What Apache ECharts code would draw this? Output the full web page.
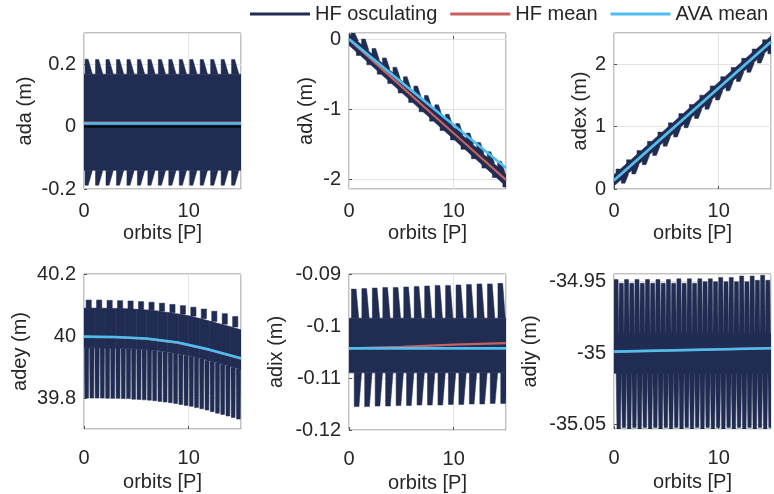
<!DOCTYPE html>
<html><head><meta charset="utf-8">
<script src="https://cdn.jsdelivr.net/npm/echarts@6/dist/echarts.min.js"></script>
<style>html,body{margin:0;padding:0;background:#fff}#c{width:774px;height:494px}</style>
</head><body><div id="c"></div>
<script>
// ---------------- data (orbits [P], metres) ----------------
const seriesNames = ['HF osculating', 'HF mean', 'AVA mean'];
const xTickLabels = [0, 10];
const yNames = ['ada (m)', 'adλ (m)', 'adex (m)', 'adey (m)', 'adix (m)', 'adiy (m)'];

// HF osculating envelope: body rows [t, low, high]; teeth rows [t, base, peak]
const adaBody = [[0, -0.140, 0.168], [15, -0.140, 0.168]];
const adaUp = [[0.1,0.168,0.216],[1.1,0.168,0.215],[2.1,0.168,0.215],[3.1,0.168,0.215],[4.1,0.168,0.215],[5.1,0.168,0.215],[6.1,0.168,0.215],[7.1,0.168,0.215],[8.1,0.168,0.215],[9.1,0.168,0.215],[10.1,0.168,0.215],[11.1,0.168,0.215],[12.1,0.168,0.215],[13.1,0.168,0.215],[14.1,0.168,0.215]];
const adaLow = [[0.1,-0.140,-0.188],[1.1,-0.140,-0.188],[2.1,-0.140,-0.188],[3.1,-0.140,-0.188],[4.1,-0.140,-0.188],[5.1,-0.140,-0.188],[6.1,-0.140,-0.188],[7.1,-0.140,-0.188],[8.1,-0.140,-0.188],[9.1,-0.140,-0.188],[10.1,-0.140,-0.188],[11.1,-0.140,-0.188],[12.1,-0.140,-0.188],[13.1,-0.140,-0.188],[14.1,-0.140,-0.188]];
const adaHFmean = [[0, 0.013], [15, 0.013]];
const adaAVAmean = [[0, 0.010], [15, 0.010]];
const adaZero = [[0, 0], [15, 0]];

const adlBody = [[0, -0.09, 0.08], [15, -2.10, -1.93]];
const adlUp = [[0.2,-0.027,0.086],[1.2,-0.161,-0.001],[2.2,-0.295,-0.135],[3.2,-0.429,-0.269],[4.2,-0.563,-0.403],[5.2,-0.697,-0.537],[6.2,-0.831,-0.671],[7.2,-0.965,-0.805],[8.2,-1.099,-0.939],[9.2,-1.233,-1.073],[10.2,-1.367,-1.207],[11.2,-1.501,-1.341],[12.2,-1.635,-1.475],[13.2,-1.769,-1.609],[14.2,-1.903,-1.743]];
const adlLow = [[0.7,-0.094,-0.234],[1.7,-0.228,-0.368],[2.7,-0.362,-0.502],[3.7,-0.496,-0.636],[4.7,-0.630,-0.770],[5.7,-0.764,-0.904],[6.7,-0.898,-1.038],[7.7,-1.032,-1.172],[8.7,-1.166,-1.306],[9.7,-1.300,-1.440],[10.7,-1.434,-1.574],[11.7,-1.568,-1.708],[12.7,-1.702,-1.842],[13.7,-1.836,-1.976],[14.7,-1.970,-2.110]];
const adlHFmean = [[0, -0.005], [5, -0.675], [10, -1.345], [15, -2.01]];
const adlAVAmean = [[0, 0.0], [5, -0.615], [10, -1.228], [15, -1.84]];

const adexBody = [[0, 0.05, 0.23], [15, 2.27, 2.45]];
const adexUp = [[0.2,0.170,0.320],[1.2,0.318,0.468],[2.2,0.466,0.616],[3.2,0.614,0.764],[4.2,0.762,0.912],[5.2,0.910,1.060],[6.2,1.058,1.208],[7.2,1.206,1.356],[8.2,1.354,1.504],[9.2,1.502,1.652],[10.2,1.650,1.800],[11.2,1.798,1.948],[12.2,1.946,2.096],[13.2,2.094,2.244],[14.2,2.242,2.392]];
const adexLow = [[0.7,0.244,0.094],[1.7,0.392,0.242],[2.7,0.540,0.390],[3.7,0.688,0.538],[4.7,0.836,0.686],[5.7,0.984,0.834],[6.7,1.132,0.982],[7.7,1.280,1.130],[8.7,1.428,1.278],[9.7,1.576,1.426],[10.7,1.724,1.574],[11.7,1.872,1.722],[12.7,2.020,1.870],[13.7,2.168,2.018],[14.7,2.316,2.166]];
const adexHFmean = [[0, 0.135], [15, 2.355]];
const adexAVAmean = [[0, 0.14], [15, 2.36]];

const adeyBody = [[0,39.962,40.090],[1,39.962,40.090],[2,39.9615,40.0895],[3,39.961,40.089],[4,39.960,40.088],[5,39.958,40.086],[6,39.956,40.084],[7,39.953,40.081],[8,39.948,40.076],[9,39.943,40.071],[10,39.937,40.065],[11,39.929,40.057],[12,39.920,40.048],[13,39.911,40.039],[14,39.902,40.030],[15,39.892,40.020]];
const adeyUp = [[0.2,40.09,40.116],[1.2,40.09,40.116],[2.2,40.089,40.115],[3.2,40.088,40.114],[4.2,40.087,40.113],[5.2,40.085,40.111],[6.2,40.083,40.109],[7.2,40.080,40.106],[8.2,40.075,40.102],[9.2,40.070,40.098],[10.2,40.064,40.093],[11.2,40.056,40.087],[12.2,40.047,40.080],[13.2,40.038,40.072],[14.2,40.029,40.063]];
const adeyLow = [[0.25,39.962,39.800],[0.75,39.962,39.800],[1.25,39.962,39.800],[1.75,39.962,39.800],[2.25,39.961,39.7995],[2.75,39.961,39.799],[3.25,39.961,39.799],[3.75,39.960,39.798],[4.25,39.959,39.798],[4.75,39.958,39.796],[5.25,39.957,39.795],[5.75,39.956,39.794],[6.25,39.955,39.793],[6.75,39.953,39.791],[7.25,39.951,39.789],[7.75,39.949,39.787],[8.25,39.946,39.785],[8.75,39.944,39.782],[9.25,39.941,39.779],[9.75,39.938,39.776],[10.25,39.935,39.773],[10.75,39.931,39.769],[11.25,39.927,39.765],[11.75,39.922,39.761],[12.25,39.918,39.756],[12.75,39.913,39.751],[13.25,39.909,39.747],[13.75,39.904,39.742],[14.25,39.899,39.737],[14.75,39.894,39.732]];
const adeyHFmean = [[0,39.997],[3,39.996],[6,39.991],[9,39.978],[12,39.955],[15,39.927]];
const adeyAVAmean = [[0,39.998],[3,39.997],[6,39.992],[9,39.979],[12,39.956],[15,39.928]];

const adixBody = [[0, -0.1090, -0.0985], [15, -0.1090, -0.0985]];
const adixUp = [[0.23,-0.0985,-0.0929],[1.23,-0.0985,-0.0928],[2.23,-0.0985,-0.0927],[3.23,-0.0985,-0.0926],[4.23,-0.0985,-0.0926],[5.23,-0.0985,-0.0925],[6.23,-0.0985,-0.0924],[7.23,-0.0985,-0.0923],[8.23,-0.0985,-0.0922],[9.23,-0.0985,-0.0922],[10.23,-0.0985,-0.0921],[11.23,-0.0985,-0.0920],[12.23,-0.0985,-0.0919],[13.23,-0.0985,-0.0919],[14.23,-0.0985,-0.0918]];
const adixLow = [[0.5,-0.1090,-0.1155],[1.5,-0.1090,-0.1155],[2.5,-0.1090,-0.1154],[3.5,-0.1090,-0.1154],[4.5,-0.1090,-0.1153],[5.5,-0.1090,-0.1153],[6.5,-0.1090,-0.1152],[7.5,-0.1090,-0.1152],[8.5,-0.1090,-0.1152],[9.5,-0.1090,-0.1151],[10.5,-0.1090,-0.1151],[11.5,-0.1090,-0.1150],[12.5,-0.1090,-0.1150],[13.5,-0.1090,-0.1149],[14.5,-0.1090,-0.1149]];
const adixHFmean = [[0, -0.1043], [5, -0.1040], [10, -0.1036], [15, -0.1033]];
const adixAVAmean = [[0, -0.1043], [15, -0.1043]];

const adiyBody = [[0, -35.014, -34.986], [15, -35.014, -34.986]];
const adiyUp = [[0.2,-34.99,-34.9485],[0.7,-34.99,-34.951],[1.2,-34.99,-34.9485],[1.7,-34.99,-34.951],[2.2,-34.99,-34.9485],[2.7,-34.99,-34.951],[3.2,-34.99,-34.9485],[3.7,-34.99,-34.951],[4.2,-34.99,-34.9485],[4.7,-34.99,-34.951],[5.2,-34.99,-34.9485],[5.7,-34.99,-34.951],[6.2,-34.99,-34.948],[6.7,-34.99,-34.951],[7.2,-34.99,-34.948],[7.7,-34.99,-34.951],[8.2,-34.99,-34.948],[8.7,-34.99,-34.950],[9.2,-34.99,-34.948],[9.7,-34.99,-34.950],[10.2,-34.99,-34.947],[10.7,-34.99,-34.950],[11.2,-34.99,-34.947],[11.7,-34.99,-34.950],[12.2,-34.99,-34.946],[12.7,-34.99,-34.950],[13.2,-34.99,-34.946],[13.7,-34.99,-34.949],[14.2,-34.99,-34.9455],[14.7,-34.99,-34.949]];
const adiyLow = [[0.45,-35.01,-35.055],[0.95,-35.01,-35.052],[1.45,-35.01,-35.055],[1.95,-35.01,-35.052],[2.45,-35.01,-35.055],[2.95,-35.01,-35.052],[3.45,-35.01,-35.055],[3.95,-35.01,-35.052],[4.45,-35.01,-35.055],[4.95,-35.01,-35.052],[5.45,-35.01,-35.055],[5.95,-35.01,-35.052],[6.45,-35.01,-35.055],[6.95,-35.01,-35.052],[7.45,-35.01,-35.055],[7.95,-35.01,-35.052],[8.45,-35.01,-35.055],[8.95,-35.01,-35.052],[9.45,-35.01,-35.055],[9.95,-35.01,-35.052],[10.45,-35.01,-35.055],[10.95,-35.01,-35.052],[11.45,-35.01,-35.055],[11.95,-35.01,-35.052],[12.45,-35.01,-35.055],[12.95,-35.01,-35.052],[13.45,-35.01,-35.055],[13.95,-35.01,-35.052],[14.45,-35.01,-35.055],[14.95,-35.01,-35.052]];
const adiyHFmean = [[0, -34.9989], [15, -34.9965]];
const adiyAVAmean = [[0, -34.9989], [15, -34.9965]];

// ---------------- layout & style ----------------
const C_OSC = '#202c52', C_HF = '#c8605f', C_AVA = '#4dbeee', C_TXT = '#262626';
const FONT = '"Liberation Sans", Arial, Helvetica, sans-serif';
const panels = [
  {grid:{left:84,top:33,width:157,height:156}, y:{min:-0.2,max:0.3,interval:0.2}, nameGap:49, row:0,
   body:adaBody, up:adaUp, low:adaLow, hf:adaHFmean, ava:adaAVAmean, zero:adaZero,
   upShape:{wb:0.7,wt:0.3,align:'left'}, lowShape:{wb:0.7,wt:0.3,align:'left'}},
  {grid:{left:349,top:33,width:157,height:156}, y:{min:-2.14,max:0.086,splitNumber:3}, nameGap:33, row:0,
   body:adlBody, up:adlUp, low:adlLow, hf:adlHFmean, ava:adlAVAmean,
   upShape:{wb:0.7,wt:0.35,align:'left'}, lowShape:{wb:0.7,wt:0.35,align:'left'}},
  {grid:{left:614,top:33,width:157,height:156}, y:{min:0,max:2.5,interval:1}, nameGap:22, row:0,
   body:adexBody, up:adexUp, low:adexLow, hf:adexHFmean, ava:adexAVAmean,
   upShape:{wb:0.7,wt:0.35,align:'left'}, lowShape:{wb:0.7,wt:0.35,align:'left'}},
  {grid:{left:84,top:274,width:157,height:155}, y:{min:39.7,max:40.2,splitNumber:3}, nameGap:54, row:1,
   body:adeyBody, up:adeyUp, low:adeyLow, hf:adeyHFmean, ava:adeyAVAmean,
   upShape:{wb:0.5,wt:0.5,align:'left'}, lowShape:{wb:0.42,wt:0.36,align:'center'}},
  {grid:{left:349,top:274,width:157,height:156}, y:{min:-0.12,max:-0.09,interval:0.01}, nameGap:63, row:1,
   body:adixBody, up:adixUp, low:adixLow, hf:adixHFmean, ava:adixAVAmean,
   upShape:{wb:0.7,wt:0.45,align:'left'}, lowShape:{wb:0.7,wt:0.45,align:'left'}},
  {grid:{left:614,top:274,width:157,height:155}, y:{min:-35.053,max:-34.9446,splitNumber:2}, nameGap:74, row:1,
   body:adiyBody, up:adiyUp, low:adiyLow, hf:adiyHFmean, ava:adiyAVAmean,
   upShape:{wb:0.5,wt:0.38,align:'center'}, lowShape:{wb:0.5,wt:0.32,align:'center'}}
];

function bodyRender(rows) {
  return function (params, api) {
    const i = params.dataIndex;
    if (i >= rows.length - 1) return null;
    const a = rows[i], b = rows[i + 1];
    const pts = [api.coord([a[0], a[1]]), api.coord([a[0], a[2]]), api.coord([b[0], b[2]]), api.coord([b[0], b[1]])];
    return {type: 'polygon', shape: {points: pts}, style: {fill: C_OSC, stroke: C_OSC, lineWidth: 0.6}};
  };
}
function toothRender(shape) {
  return function (params, api) {
    const t = api.value(0), base = api.value(1), peak = api.value(2);
    let pts;
    if (shape.align === 'left') {
      pts = [[t, base], [t, peak], [t + shape.wt, peak], [t + shape.wb, base]];
    } else {
      pts = [[t - shape.wb / 2, base], [t - shape.wt / 2, peak], [t + shape.wt / 2, peak], [t + shape.wb / 2, base]];
    }
    return {type: 'polygon', shape: {points: pts.map(p => api.coord(p))}, style: {fill: C_OSC, stroke: C_OSC, lineWidth: 0.5}};
  };
}

const grid = [], xAxis = [], yAxis = [], series = [];
panels.forEach((p, k) => {
  const hasInterval = !!p.y.interval;
  const maxOnTick = hasInterval ? Math.abs(Math.round(p.y.max / p.y.interval) * p.y.interval - p.y.max) < 1e-9 : (k === 3);
  grid.push(Object.assign({show: true, borderColor: '#858585', borderWidth: 1, backgroundColor: '#fff'}, p.grid));
  xAxis.push({
    type: 'value', gridIndex: k, min: 0, max: 15, interval: 10,
    name: 'orbits [P]', nameLocation: 'middle', nameGap: p.row ? 43 : 34,
    nameTextStyle: {fontSize: 20, fontFamily: FONT, color: C_TXT},
    axisLine: {show: false}, axisTick: {show: true, inside: true, length: 3, lineStyle: {color: '#555'}},
    axisLabel: {fontSize: 20, fontFamily: FONT, color: C_TXT, margin: p.row ? 19 : 12, showMaxLabel: false,
      formatter: v => (xTickLabels.indexOf(v) >= 0 ? String(v) : '')},
    splitLine: {show: true, lineStyle: {color: '#e3e3e3', width: 1}}
  });
  yAxis.push(Object.assign({
    type: 'value', gridIndex: k, name: yNames[k], nameLocation: 'middle', nameGap: p.nameGap,
    nameTextStyle: {fontSize: 20, fontFamily: FONT, color: C_TXT},
    axisLine: {show: false}, axisTick: {show: true, inside: true, length: 3, lineStyle: {color: '#555'}},
    axisLabel: {fontSize: 20, fontFamily: FONT, color: C_TXT, margin: 8,
      showMinLabel: hasInterval, showMaxLabel: maxOnTick},
    splitLine: {show: true, lineStyle: {color: '#e3e3e3', width: 1}}
  }, p.y));
  series.push({type: 'custom', name: seriesNames[0], xAxisIndex: k, yAxisIndex: k, clip: true,
    itemStyle: {color: C_OSC}, renderItem: bodyRender(p.body), data: p.body, silent: true, z: 2});
  series.push({type: 'custom', name: seriesNames[0], xAxisIndex: k, yAxisIndex: k, clip: true,
    itemStyle: {color: C_OSC}, renderItem: toothRender(p.upShape), data: p.up, silent: true, z: 2});
  series.push({type: 'custom', name: seriesNames[0], xAxisIndex: k, yAxisIndex: k, clip: true,
    itemStyle: {color: C_OSC}, renderItem: toothRender(p.lowShape), data: p.low, silent: true, z: 2});
  if (p.zero) series.push({type: 'line', name: 'zero', xAxisIndex: k, yAxisIndex: k, data: p.zero,
    showSymbol: false, lineStyle: {color: '#000', width: 1.6}, silent: true, z: 3});
  series.push({type: 'line', name: seriesNames[1], xAxisIndex: k, yAxisIndex: k, data: p.hf,
    showSymbol: false, clip: true, lineStyle: {color: C_HF, width: 2.2}, itemStyle: {color: C_HF}, silent: true, z: 4});
  series.push({type: 'line', name: seriesNames[2], xAxisIndex: k, yAxisIndex: k, data: p.ava,
    showSymbol: false, clip: true, lineStyle: {color: C_AVA, width: 2.6}, itemStyle: {color: C_AVA}, silent: true, z: 5});
});

const chart = echarts.init(document.getElementById('c'), null, {renderer: 'canvas'});
chart.setOption({
  animation: false,
  backgroundColor: '#fff',
  legend: {
    data: seriesNames, left: 250, top: 4, width: 524, padding: 0, icon: 'rect', itemWidth: 60, itemHeight: 3, itemGap: 13,
    textStyle: {fontSize: 20, fontFamily: FONT, color: C_TXT}
  },
  grid, xAxis, yAxis, series
});
</script></body></html>
